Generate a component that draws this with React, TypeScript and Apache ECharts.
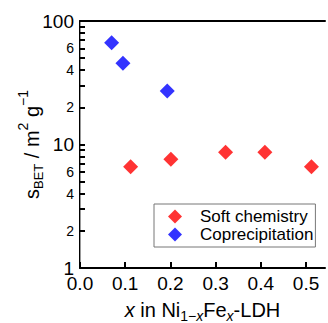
import React, { useEffect, useRef } from "react";
import * as echarts from "echarts";

const softX = [0.112, 0.201, 0.322, 0.409, 0.512];
const softY = [6.6, 7.6, 8.65, 8.65, 6.6];
const coprecX = [0.07, 0.095, 0.193];
const coprecY = [66.7, 45.4, 27.1];
const xTicks = [0, 0.1, 0.2, 0.3, 0.4, 0.5];
const yLabelValues = [1, 2, 4, 6, 10, 20, 40, 60, 100];
const yTickValues = [1, 2, 3, 4, 5, 6, 7, 8, 9, 10, 20, 30, 40, 50, 60, 70, 80, 90, 100];
const seriesNames = ["Soft chemistry", "Coprecipitation"];

const FONT = "Liberation Sans, Arial, sans-serif";

export default function App() {
  const ref = useRef<HTMLDivElement>(null);
  useEffect(() => {
    if (!ref.current) return;
    const chart = echarts.init(ref.current, null, { renderer: "svg" });
    const soft = softX.map((x, i) => [x, softY[i]]);
    const cop = coprecX.map((x, i) => [x, coprecY[i]]);
    chart.setOption({
      animation: false,
      textStyle: { fontFamily: FONT },
      grid: { left: 80, top: 21, right: 3, bottom: 55, containLabel: false, outerBoundsMode: "none" },
      legend: {
        data: seriesNames,
        orient: "vertical",
        left: 154,
        top: 204,
        icon: "diamond",
        itemWidth: 14,
        itemHeight: 14,
        itemGap: 1,
        padding: [4, 2, 4, 14],
        borderColor: "#777",
        borderWidth: 1,
        borderRadius: 0,
        textStyle: { fontSize: 17, lineHeight: 17, color: "#000", fontFamily: FONT, padding: [0, 0, 0, 13] },
      },
      xAxis: [
        {
          type: "value",
          min: 0,
          max: 0.542,
          interval: 0.1,
          position: "bottom",
          axisLine: { lineStyle: { color: "#000", width: 2 } },
          axisTick: { inside: true, length: 6, lineStyle: { color: "#000", width: 2 }, customValues: xTicks },
          axisLabel: {
            customValues: xTicks,
            formatter: (v: number) => v.toFixed(1),
            fontSize: 19,
            color: "#000",
            margin: 6,
            fontFamily: FONT,
          },
          splitLine: { show: false },
          name: "{i|x} in Ni{sub|1−}{subi|x}Fe{subi|x}-LDH",
          nameLocation: "middle",
          nameGap: 29,
          nameMoveOverlap: false,
          nameTextStyle: {
            fontSize: 20,
            color: "#000",
            fontFamily: FONT,
            rich: {
              i: { fontSize: 20, fontStyle: "italic", fontFamily: FONT, lineHeight: 26 },
              sub: { fontSize: 14, verticalAlign: "bottom", fontFamily: FONT, lineHeight: 26 },
              subi: { fontSize: 14, fontStyle: "italic", verticalAlign: "bottom", fontFamily: FONT, lineHeight: 26 },
            },
          },
        },
        {
          type: "value",
          min: 0,
          max: 0.542,
          position: "top",
          axisLine: { show: true, lineStyle: { color: "#000", width: 2 } },
          axisTick: { show: false },
          axisLabel: { show: false },
          splitLine: { show: false },
        },
      ],
      yAxis: [
        {
          type: "log",
          logBase: 10,
          min: 1,
          max: 100,
          axisLine: { show: true, lineStyle: { color: "#000", width: 2 } },
          axisTick: { inside: true, length: 5, lineStyle: { color: "#000", width: 2 }, customValues: yTickValues },
          minorTick: { show: false },
          axisLabel: {
            customValues: yLabelValues,
            formatter: (v: number) => {
              const big = Math.abs(Math.log10(v) - Math.round(Math.log10(v))) < 1e-6;
              if (big) return "{big|" + Math.round(v) + "}";
              const d = Math.round(v / Math.pow(10, Math.floor(Math.log10(v) + 1e-9)));
              return "{small|" + d + "}";
            },
            margin: 6,
            color: "#000",
            rich: {
              big: { fontSize: 19, color: "#000", fontFamily: FONT },
              small: { fontSize: 14, color: "#000", fontFamily: FONT },
            },
          },
          splitLine: { show: false },
          name: "s{sub|BET} / m{sup|2} g{sup|−1}",
          nameLocation: "middle",
          nameRotate: 90,
          nameGap: 32,
          nameMoveOverlap: false,
          nameTextStyle: {
            fontSize: 20,
            color: "#000",
            fontFamily: FONT,
            lineHeight: 32,
            rich: {
              sub: { fontSize: 13, verticalAlign: "bottom", fontFamily: FONT, lineHeight: 32, padding: [0, 0, 3, 0] },
              sup: { fontSize: 14, verticalAlign: "top", fontFamily: FONT, lineHeight: 32 },
            },
          },
        },
        {
          type: "value",
          min: 0,
          max: 1,
          position: "right",
          axisLine: { show: true, lineStyle: { color: "#999", width: 1 } },
          axisTick: { show: false },
          axisLabel: { show: false },
          splitLine: { show: false },
        },
      ],
      series: [
        {
          name: seriesNames[0],
          type: "scatter",
          symbol: "diamond",
          symbolSize: 15,
          itemStyle: { color: "#ff0000" },
          data: soft,
        },
        {
          name: seriesNames[1],
          type: "scatter",
          symbol: "diamond",
          symbolSize: 15,
          itemStyle: { color: "#0000ff" },
          data: cop,
        },
      ],
    });
    return () => chart.dispose();
  }, []);
  return <div ref={ref} style={{ position: "absolute", left: 0, top: 0, width: 328, height: 323 }} />;
}
